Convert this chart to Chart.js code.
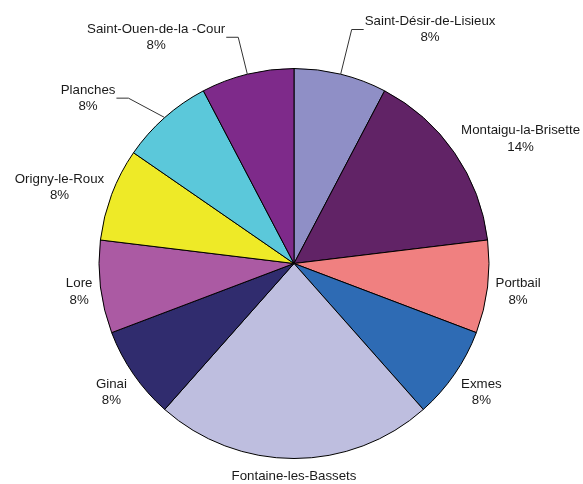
<!DOCTYPE html>
<html>
<head>
<meta charset="utf-8">
<script src="https://cdn.jsdelivr.net/npm/chart.js@4/dist/chart.umd.min.js"></script>
<style>
  html, body { margin: 0; padding: 0; background: #fff; }
  #wrap { width: 583px; height: 484px; }
</style>
</head>
<body>
<div id="wrap"><canvas id="chart" width="583" height="484"></canvas></div>
<script>
// Communes, clockwise from the top
const categories = [
  "Saint-Désir-de-Lisieux", "Montaigu-la-Brisette", "Portbail", "Exmes",
  "Fontaine-les-Bassets", "Ginai", "Lore", "Origny-le-Roux", "Planches",
  "Saint-Ouen-de-la -Cour"
];
// Relative slice sizes
const values = [1, 2, 1, 1, 3, 1, 1, 1, 1, 1];
// Percent labels as printed (Fontaine has none)
const pctLabels = ["8%", "14%", "8%", "8%", "", "8%", "8%", "8%", "8%", "8%"];
const colors = [
  "#8f8fc6", "#612366", "#f08080", "#2e6bb4", "#bebedf",
  "#302c6e", "#ab5aa3", "#eeea27", "#5bc8da", "#7e2a8a"
];
// Leader lines: extra length past the rim (0 = no leader) and a small turn in degrees
const leaderLen = [46, 0, 0, 0, 0, 0, 0, 0, 39, 38];
const leaderTurn = [0, 0, 0, 0, 0, 0, 0, 0, -3.5, 0];

const FONT = '13.3px "Liberation Sans", Arial, sans-serif';
const LINE_H = 16.5;

// Draws the outside labels around the pie
const outsideLabels = {
  id: "outsideLabels",
  afterDatasetsDraw(chart) {
    const ctx = chart.ctx;
    const meta = chart.getDatasetMeta(0);
    ctx.save();
    ctx.font = FONT;
    ctx.fillStyle = "#1a1a1a";
    ctx.strokeStyle = "#333";
    ctx.lineWidth = 1;
    ctx.textAlign = "center";
    ctx.textBaseline = "middle";

    meta.data.forEach((arc, i) => {
      const p = arc.getProps(["x", "y", "startAngle", "endAngle", "outerRadius"], true);
      const a = (p.startAngle + p.endAngle) / 2;
      const dx = Math.cos(a);
      const dy = Math.sin(a);
      const lines = [categories[i]];
      if (pctLabels[i]) lines.push(pctLabels[i]);
      const w = Math.max(...lines.map((t) => ctx.measureText(t).width));
      const h = lines.length * LINE_H;
      let cx, cy;

      if (leaderLen[i] > 0) {
        const b = a + (leaderTurn[i] * Math.PI) / 180;
        const sx = p.x + dx * p.outerRadius;
        const sy = p.y + dy * p.outerRadius;
        const ex = p.x + Math.cos(b) * (p.outerRadius + leaderLen[i]);
        const ey = p.y + Math.sin(b) * (p.outerRadius + leaderLen[i]);
        const side = dx >= 0 ? 1 : -1;
        const hx = ex + side * 12;
        ctx.beginPath();
        ctx.moveTo(sx, sy);
        ctx.lineTo(ex, ey);
        ctx.lineTo(hx, ey);
        ctx.stroke();
        cx = hx + side * (w / 2 + 1);
        cy = ey;
      } else {
        const ax = p.x + dx * (p.outerRadius + 8);
        const ay = p.y + dy * (p.outerRadius + 8);
        const m = Math.max(Math.abs(dx), Math.abs(dy));
        cx = ax + (w / 2) * dx / m;
        cy = ay + (h / 2) * dy / m + 2;
      }

      lines.forEach((t, k) => {
        ctx.fillText(t, cx, cy - h / 2 + LINE_H * (k + 0.5));
      });
    });
    ctx.restore();
  }
};

new Chart(document.getElementById("chart"), {
  type: "pie",
  data: {
    labels: categories,
    datasets: [{
      data: values,
      backgroundColor: colors,
      borderColor: "#000",
      borderWidth: 1,
      hoverBorderWidth: 1,
      hoverOffset: 0
    }]
  },
  options: {
    responsive: false,
    animation: false,
    events: [],
    layout: { padding: { top: 68, bottom: 25, left: 60, right: 55 } },
    plugins: {
      legend: { display: false },
      tooltip: { enabled: false }
    }
  },
  plugins: [outsideLabels]
});
</script>
</body>
</html>
